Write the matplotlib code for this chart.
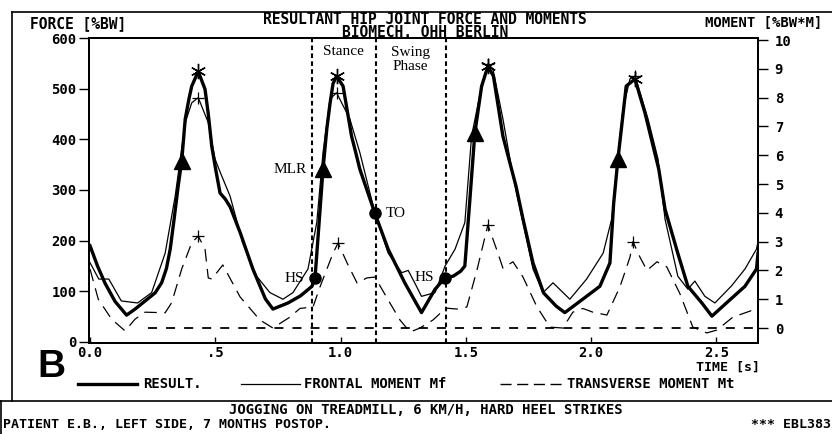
import matplotlib
matplotlib.use("Agg")
import matplotlib.pyplot as plt
from matplotlib.lines import Line2D
from matplotlib.font_manager import FontProperties
from matplotlib.transforms import blended_transform_factory

# resultant hip force [%BW]
res_t = [0.0, 0.03, 0.06, 0.10, 0.146, 0.18, 0.22, 0.26, 0.286, 0.305, 0.32, 0.335,
         0.352, 0.366, 0.38, 0.395, 0.406, 0.432, 0.459, 0.472, 0.486, 0.50, 0.519,
         0.54, 0.56, 0.60, 0.65, 0.70, 0.73, 0.79, 0.84, 0.886, 0.898, 0.915, 0.93,
         0.945, 0.958, 0.97, 0.984, 1.01, 1.044, 1.06, 1.077, 1.137, 1.19, 1.257,
         1.323, 1.377, 1.417, 1.45, 1.48, 1.496, 1.515, 1.536, 1.563, 1.588, 1.61,
         1.648, 1.70, 1.728, 1.768, 1.81, 1.86, 1.895, 1.968, 2.035, 2.075, 2.09,
         2.107, 2.14, 2.175, 2.215, 2.27, 2.295, 2.346, 2.386, 2.442, 2.482, 2.54,
         2.614, 2.66, 2.666]
res_f = [190, 150, 116, 80, 53, 65, 81, 97, 117, 145, 183, 240,
         308, 357, 440, 480, 505, 534, 499, 450, 386, 345, 294,
         282, 266, 215, 144, 85, 65, 77, 91, 110, 126, 240, 341,
         420, 471, 510, 525, 505, 406, 375, 341, 254, 183, 116,
         58, 104, 127, 130, 140, 150, 274, 413, 505, 544, 525,
         406, 308, 243, 156, 97, 71, 58, 85, 110, 156, 274,
         361, 505, 519, 452, 341, 262, 175, 110, 77, 51, 77,
         110, 144, 175]

# frontal moment Mf [%BW*m]
mf_t = [0.0, 0.035, 0.075, 0.125, 0.19, 0.246, 0.30, 0.34, 0.38, 0.406, 0.432,
        0.472, 0.499, 0.52, 0.559, 0.61, 0.665, 0.718, 0.77, 0.81, 0.87, 0.905,
        0.93, 0.958, 0.984, 1.037, 1.077, 1.137, 1.19, 1.244, 1.27, 1.30, 1.323,
        1.377, 1.417, 1.457, 1.496, 1.523, 1.563, 1.588, 1.608, 1.648, 1.688,
        1.728, 1.768, 1.808, 1.848, 1.915, 1.982, 2.048, 2.082, 2.102, 2.127,
        2.155, 2.175, 2.227, 2.267, 2.295, 2.346, 2.386, 2.414, 2.454, 2.494,
        2.56, 2.614, 2.66, 2.666]
mf_m = [2.27, 1.7, 1.7, 0.94, 0.87, 1.23, 2.6, 4.58, 7.13, 7.82, 8.0,
        7.13, 5.87, 5.4, 4.58, 2.95, 1.8, 1.23, 1.0, 1.23, 2.05, 3.66,
        6.09, 7.95, 8.17, 7.26, 6.09, 4.0, 2.6, 1.92, 2.0, 1.5, 1.1,
        1.23, 2.15, 2.74, 3.66, 6.67, 8.4, 9.17, 9.0, 7.26, 5.28,
        3.66, 2.05, 1.23, 1.57, 1.0, 1.7, 2.6, 3.78, 5.52, 7.6,
        8.65, 8.75, 7.26, 5.87, 3.78, 1.8, 1.35, 1.63, 1.1, 0.87,
        1.46, 2.05, 2.74, 3.0]

# transverse moment Mt [%BW*m]
mt_t = [0.0, 0.033, 0.086, 0.14, 0.18, 0.22, 0.30, 0.326, 0.366, 0.406, 0.432,
        0.459, 0.472, 0.486, 0.53, 0.599, 0.678, 0.73, 0.798, 0.838, 0.89, 0.918,
        0.97, 0.99, 1.026, 1.066, 1.105, 1.137, 1.197, 1.237, 1.277, 1.317,
        1.369, 1.42, 1.465, 1.504, 1.544, 1.588, 1.624, 1.648, 1.688, 1.728,
        1.784, 1.836, 1.887, 1.927, 1.967, 2.007, 2.063, 2.115, 2.155, 2.167,
        2.195, 2.223, 2.263, 2.302, 2.354, 2.406, 2.462, 2.502, 2.566, 2.622, 2.666]
mt_m = [2.05, 1.0, 0.31, -0.1, 0.31, 0.55, 0.53, 0.88, 2.05, 2.96, 3.19,
        2.74, 1.74, 1.7, 2.19, 1.08, 0.28, 0.0, 0.38, 0.68, 0.73, 1.43,
        2.6, 2.95, 2.26, 1.56, 1.74, 1.77, 0.87, 0.28, -0.14, 0.0,
        0.28, 0.69, 0.66, 0.73, 2.0, 3.58, 2.7, 2.08, 2.3, 1.77,
        0.73, 0.03, 0.0, 0.55, 0.68, 0.55, 0.45, 1.43, 2.46, 3.0,
        2.46, 2.0, 2.3, 2.12, 1.2, 0.03, -0.17, -0.07, 0.38, 0.55, 0.69]

# markers
res_peak_t = [0.432, 0.984, 1.588, 2.175]
res_peak_f = [534, 525, 544, 519]
mf_peak_t = [0.432, 0.984, 1.588, 2.175]
mf_peak_m = [8.0, 8.17, 9.17, 8.75]
mt_peak_t = [0.432, 0.99, 1.588, 2.167]
mt_peak_m = [3.19, 2.95, 3.58, 3.0]
mlr_t = [0.366, 0.93, 1.536, 2.107]
mlr_f = [357, 341, 413, 361]
event_t = [0.898, 1.137, 1.417]
event_f = [126, 254, 127]
event_lbl = ["HS", "TO", "HS"]
phase_t = [0.885, 1.14, 1.42]

x_ticks = [0.0, 0.5, 1.0, 1.5, 2.0, 2.5]
x_ticklabels = ["0.0", ".5", "1.0", "1.5", "2.0", "2.5"]

W, H = 832, 434
MONO = "DejaVu Sans Mono"
SERIF = "Liberation Serif"


def fx(px):
    return px / W


def fy(py):
    return 1 - py / H


def mono(size):
    return dict(family=MONO, weight="bold", size=size)


fig = plt.figure(figsize=(W / 100, H / 100), dpi=100)
fig.patch.set_facecolor("white")

ax = fig.add_axes([fx(89), fy(343), (758 - 89) / W, (343 - 38) / H])
ax2 = ax.twinx()

ax.plot(res_t, res_f, color="black", lw=2.4, solid_joinstyle="round", zorder=3)
ax2.plot(mf_t, mf_m, color="black", lw=0.9, zorder=2)
ax2.plot(mt_t, mt_m, color="black", lw=0.9, dashes=(10, 6), zorder=2)
ax2.plot([0.23, 2.666], [0, 0], color="black", lw=1.3, dashes=(5, 5))

for t in phase_t:
    ax.axvline(t, color="black", lw=1.5, dashes=(2.2, 1.6))

ax.plot(res_peak_t, res_peak_f, ls="none", marker=(6, 2, 0), ms=11,
        mec="black", mew=1.0, zorder=5)
ax2.plot(mf_peak_t, mf_peak_m, ls="none", marker="+", ms=9, mec="black", mew=0.9)
ax2.plot(mt_peak_t, mt_peak_m, ls="none", marker="+", ms=9, mec="black", mew=0.9)
ax.plot(mlr_t, mlr_f, ls="none", marker="^", ms=11, color="black", zorder=6)
ax.plot(event_t, event_f, ls="none", marker="o", ms=8, color="black", zorder=6)

for t, f, s in zip(event_t, event_f, event_lbl):
    if s == "TO":
        ax.annotate(s, (t, f), xytext=(11, 0), textcoords="offset pixels",
                    ha="left", va="center", fontsize=11, family=SERIF)
    else:
        ax.annotate(s, (t, f), xytext=(-11, 0), textcoords="offset pixels",
                    ha="right", va="center", fontsize=11, family=SERIF)
ax.annotate("MLR", (mlr_t[1], mlr_f[1]), xytext=(-16, 0), textcoords="offset pixels",
            ha="right", va="center", fontsize=11, family=SERIF)

bt = blended_transform_factory(ax.transData, ax.transAxes)
ax.text((phase_t[0] + phase_t[1]) / 2, 0.955, "Stance", transform=bt,
        ha="center", va="center", fontsize=11, family=SERIF)
ax.text((phase_t[1] + phase_t[2]) / 2, 0.93, "Swing\nPhase", transform=bt,
        ha="center", va="center", fontsize=11, family=SERIF, linespacing=1.1)

ax.set_xlim(-0.004, 2.666)
ax.set_ylim(-2, 600)
ax2.set_ylim(-0.52, 10.07)

ax.set_xticks(x_ticks)
ax.set_xticklabels(x_ticklabels)
ax.set_yticks(range(0, 601, 100))
ax2.set_yticks(range(0, 11))

tick_fp = FontProperties(**mono(10))
for lab in ax.get_xticklabels() + ax.get_yticklabels() + ax2.get_yticklabels():
    lab.set_fontproperties(tick_fp)
ax.tick_params(axis="x", direction="in", length=4, width=1, pad=2)
ax.tick_params(axis="y", direction="out", length=7, width=1, pad=2)
ax2.tick_params(axis="y", direction="out", length=7, width=1, pad=5)
for a in (ax, ax2):
    for sp in a.spines.values():
        sp.set_linewidth(1.4)

# header
fig.text(fx(30), fy(24), "FORCE [%BW]", ha="left", va="center", **mono(10.5))
fig.text(fx(425), fy(26), "RESULTANT HIP JOINT FORCE AND MOMENTS\nBIOMECH. OHH BERLIN",
         ha="center", va="center", multialignment="center", linespacing=0.85,
         **mono(10.5))
fig.text(fx(822), fy(23), "MOMENT [%BW*M]", ha="right", va="center", **mono(10))
fig.text(fx(760), fy(367), "TIME [s]", ha="right", va="center", **mono(9.5))

fig.text(fx(37), fy(367), "B", ha="left", va="center", size=28, weight="bold",
         family=["Liberation Sans Narrow", "Liberation Sans"])

# legend row
leg_y = fy(384)
fig.add_artist(Line2D([fx(78), fx(137)], [leg_y, leg_y], color="black", lw=2.4))
fig.text(fx(143), leg_y, "RESULT.", ha="left", va="center", **mono(10))
fig.add_artist(Line2D([fx(241), fx(300)], [leg_y, leg_y], color="black", lw=0.9))
fig.text(fx(304), leg_y, "FRONTAL MOMENT Mf", ha="left", va="center", **mono(10))
fig.add_artist(Line2D([fx(500), fx(562)], [leg_y, leg_y], color="black", lw=1.0,
                      dashes=(8, 4)))
fig.text(fx(567), leg_y, "TRANSVERSE MOMENT Mt", ha="left", va="center", **mono(10))

# frame and footer
fig.add_artist(Line2D([fx(12), fx(832)], [fy(12), fy(12)], color="black", lw=1.2))
fig.add_artist(Line2D([fx(12), fx(12)], [fy(12), fy(401)], color="black", lw=1.2))
fig.add_artist(Line2D([fx(0), fx(832)], [fy(401), fy(401)], color="black", lw=1.2))
fig.add_artist(Line2D([fx(1), fx(1)], [fy(401), fy(434)], color="black", lw=1.2))
fig.text(fx(426), fy(410), "JOGGING ON TREADMILL, 6 KM/H, HARD HEEL STRIKES",
         ha="center", va="center", **mono(10))
fig.text(fx(3), fy(425), "PATIENT E.B., LEFT SIDE, 7 MONTHS POSTOP.",
         ha="left", va="center", **mono(9.5))
fig.text(fx(831), fy(425), "*** EBL383", ha="right", va="center", **mono(9.5))

fig.savefig("out.png", dpi=100, facecolor="white")
